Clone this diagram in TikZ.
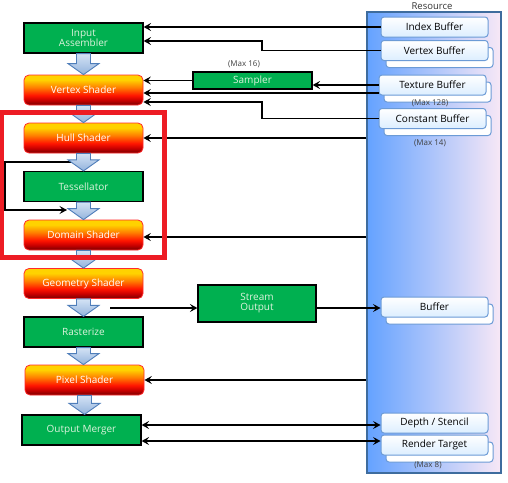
\documentclass[tikz,border=0pt]{standalone}
\usepackage{fontspec}
\setmainfont{Open Sans}
\usetikzlibrary{arrows.meta,calc,positioning}

\definecolor{stagegreen}{HTML}{00B050}
\definecolor{stagetext}{HTML}{DDF3DD}
\definecolor{shborder}{HTML}{FF2A2A}
\definecolor{shdark}{HTML}{780000}
\definecolor{shdeep}{HTML}{C80000}
\definecolor{shred}{HTML}{FF1400}
\definecolor{shorange}{HTML}{FF7C00}
\definecolor{shyellow}{HTML}{FFD200}
\definecolor{flowtop}{HTML}{D4E3F5}
\definecolor{flowlow}{HTML}{93B3DC}
\definecolor{flowline}{HTML}{4F7EBA}
\definecolor{panelleft}{HTML}{64A2FF}
\definecolor{panelmid}{HTML}{9CCBFF}
\definecolor{panelright}{HTML}{F8E8F6}
\definecolor{panelline}{HTML}{3E6C9E}
\definecolor{bufline}{HTML}{6C9BD6}
\definecolor{buflow}{HTML}{DCEEFF}
\definecolor{hilite}{HTML}{ED1C24}

\pgfdeclareverticalshading{shaderfill}{100bp}{color(0bp)=(shdark); color(25bp)=(shdark); color(33bp)=(shdeep); color(41bp)=(shred); color(54bp)=(shorange); color(67bp)=(shyellow); color(100bp)=(shyellow)}

\tikzset{
  stage/.style={draw=black, line width=1.2pt, fill=stagegreen, text=stagetext,
    minimum width=119pt, minimum height=30pt, align=center, inner sep=1pt,
    font=\fontsize{10}{11}\selectfont},
  shader/.style={draw=shborder, line width=0.8pt, rounded corners=5pt, shading=shaderfill,
    text=white, minimum width=119pt, minimum height=30pt, inner sep=1pt,
    font=\fontsize{10}{11}\selectfont},
  bufbox/.style={draw=bufline, line width=1pt, rounded corners=3pt, top color=white,
    bottom color=buflow, minimum width=107pt, minimum height=20pt, inner sep=1pt,
    font=\fontsize{10}{11}\selectfont},
  bufback/.style={draw=bufline, line width=1pt, rounded corners=3pt, fill=white,
    minimum width=107pt, minimum height=20pt},
  note/.style={font=\fontsize{8}{9}\selectfont, text=black!75, inner sep=1pt},
  flow/.style={draw=flowline, line width=0.9pt, top color=flowtop, bottom color=flowlow},
  conn/.style={line width=1.2pt, ->},
}

\begin{document}
\begin{tikzpicture}[x=1pt, y=-1pt, >={Stealth[length=7.5pt,width=8pt,inset=3pt]}]
    \useasboundingbox (0,0) rectangle (508,482);

    % resource panel
    \node[draw=panelline, line width=1.2pt, left color=panelleft, middle color=panelmid,
      right color=panelright, minimum width=134pt, minimum height=461pt] (res) at (434,242.5) {};
    \node[font=\fontsize{9.5}{10}\selectfont, text=black!80, inner sep=0pt] (reslabel) at (432,6) {Resource};

    \node[bufback] (vbs) at (439.5,57.5) {};
    \node[bufback] (tbs) at (437.5,92) {};
    \node[bufback] (cbs) at (437.5,125.5) {};
    \node[bufback] (bufs) at (439.5,314) {};
    \node[bufback] (rts) at (439.5,452) {};

    \node[bufbox] (ib) at (434.5,27) {Index Buffer};
    \node[bufbox] (vb) at (434.5,50.5) {Vertex Buffer};
    \node[bufbox] (tb) at (432.5,85) {Texture Buffer};
    \node[bufbox] (cb) at (432.5,118.5) {Constant Buffer};
    \node[bufbox] (buf) at (434.5,307) {Buffer};
    \node[bufbox] (dst) at (434.5,423) {Depth / Stencil};
    \node[bufbox] (rt) at (434.5,445) {Render Target};

    \node[note] (tbmax) at (430,103.5) {(Max 128)};
    \node[note] (cbmax) at (430,143) {(Max 14)};
    \node[note] (rtmax) at (428,465.5) {(Max 8)};

    % pipeline stages
    \node[stage] (ia) at (83.5,38) {Input\\[-1pt]Assembler};
    \node[shader] (vs) at (83.5,90) {Vertex Shader};
    \node[shader] (hs) at (83.5,138) {Hull Shader};
    \node[stage] (tes) at (83.5,186.5) {Tessellator};
    \node[shader] (ds) at (83.5,235) {Domain Shader};
    \node[shader] (gs) at (83.5,283.5) {Geometry Shader};
    \node[stage] (ras) at (83.5,332) {Rasterize};
    \node[shader] (ps) at (84.5,380) {Pixel Shader};
    \node[stage] (om) at (81.5,430) {Output Merger};

    \node[stage, minimum width=119pt, minimum height=17pt] (smp) at (252.5,80.5) {Sampler};
    \node[note] (smpmax) at (244,64) {(Max 16)};
    \node[stage, minimum width=118pt, minimum height=37pt] (so) at (257,303.5) {Stream\\[-1pt]Output};

    % tessellator loop
    \coordinate (loopa) at (72,162);
    \coordinate (loopb) at (67,210);
    \draw[conn] (loopa) -- ++(-67,0) |- (loopb);

    % flow arrows
    \foreach \a/\b in {ia/vs,vs/hs,hs/tes,tes/ds,ds/gs,gs/ras,ras/ps,ps/om}{
        \coordinate (tip) at (\a.south |- \b.north);
        \draw[flow] ($(\a.south)+(-7,0)$) -- ($(tip)+(-7,-11)$) -- ($(tip)+(-15.5,-11)$)
          -- (tip) -- ($(tip)+(15.5,-11)$) -- ($(tip)+(7,-11)$) -- ($(\a.south)+(7,0)$) -- cycle;
    }

    % resource connections
    \coordinate (vbbend) at (262,41);
    \coordinate (cbbend) at (262,102);
    \coordinate (gsout) at (110,308);
    \draw[conn] (ib.west) -- (ia.east |- ib.west);
    \draw[conn] (vb.west) -| (vbbend) -- (ia.east |- vbbend);
    \draw[conn] (tb.west) -- (smp.east |- tb.west);
    \draw[conn] (smp.west) -- (vs.east |- smp.west);
    \draw[conn] ($(tb.west)+(0,8)$) -- (vs.east |- {$(tb.west)+(0,8)$});
    \draw[conn] (cb.west) -| (cbbend) -- (vs.east |- cbbend);
    \draw[conn] (res.west |- hs.east) -- (hs.east);
    \draw[conn] ($(res.west |- ds.east)+(0,2)$) -- ($(ds.east)+(0,2)$);
    \draw[conn] (gsout) -- (so.west |- gsout);
    \draw[conn] (so.east |- gsout) -- (buf.west |- gsout);
    \draw[conn] (res.west |- ps.east) -- (ps.east);
    \draw[<->, line width=1.2pt] ($(om.east |- dst.west)+(0,2)$) -- ($(dst.west)+(0,2)$);
    \draw[<->, line width=1.2pt] ($(om.east |- rt.west)+(0,-4)$) -- ($(rt.west)+(0,-4)$);

    % highlight
    \draw[hilite, line width=4.5pt] (2,112.5) rectangle (164.5,257.5);
\end{tikzpicture}
\end{document}
